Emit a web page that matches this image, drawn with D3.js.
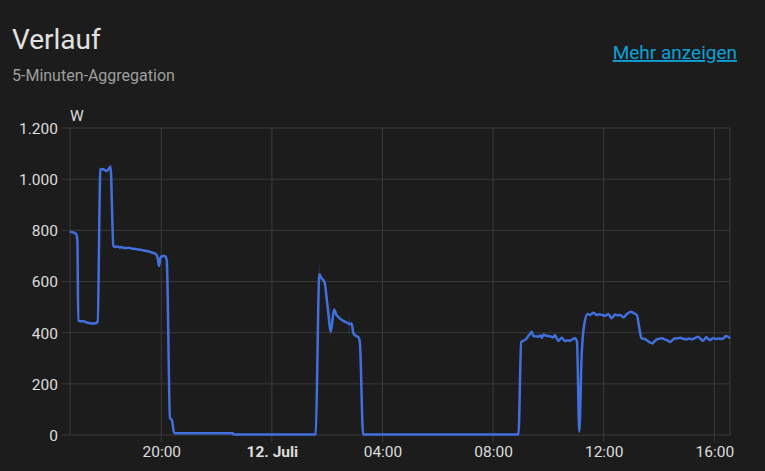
<!DOCTYPE html>
<html><head><meta charset="utf-8">
<script src="https://cdn.jsdelivr.net/npm/d3@7"></script>
<style>
html,body{margin:0;padding:0;background:#1c1c1c;}
svg{display:block;font-family:Roboto,"Noto Sans",sans-serif;}
</style></head>
<body>
<svg id="c" width="765" height="471"></svg>
<script>
// ---- data ----
const times = [
"2024-07-11T16:42","2024-07-11T16:50","2024-07-11T16:55","2024-07-11T16:58","2024-07-11T17:00",
"2024-07-11T17:05","2024-07-11T17:12","2024-07-11T17:17","2024-07-11T17:25","2024-07-11T17:30",
"2024-07-11T17:36","2024-07-11T17:42","2024-07-11T17:48","2024-07-11T17:54","2024-07-11T17:58",
"2024-07-11T18:02","2024-07-11T18:06","2024-07-11T18:10","2024-07-11T18:16","2024-07-11T18:20",
"2024-07-11T18:25","2024-07-11T18:30","2024-07-11T18:35","2024-07-11T18:40","2024-07-11T18:45",
"2024-07-11T18:50","2024-07-11T18:55","2024-07-11T19:00","2024-07-11T19:05","2024-07-11T19:10",
"2024-07-11T19:15","2024-07-11T19:20","2024-07-11T19:25","2024-07-11T19:30","2024-07-11T19:35",
"2024-07-11T19:40","2024-07-11T19:45","2024-07-11T19:50","2024-07-11T19:53","2024-07-11T19:55",
"2024-07-11T19:58","2024-07-11T20:01","2024-07-11T20:05","2024-07-11T20:09","2024-07-11T20:12",
"2024-07-11T20:19","2024-07-11T20:23","2024-07-11T20:28","2024-07-11T20:35","2024-07-11T22:35",
"2024-07-11T22:37","2024-07-12T01:33","2024-07-12T01:35","2024-07-12T01:43","2024-07-12T01:48",
"2024-07-12T01:54","2024-07-12T02:01","2024-07-12T02:08","2024-07-12T02:15","2024-07-12T02:20",
"2024-07-12T02:24","2024-07-12T02:30","2024-07-12T02:35","2024-07-12T02:42","2024-07-12T02:48",
"2024-07-12T02:53","2024-07-12T02:57","2024-07-12T03:02","2024-07-12T03:08","2024-07-12T03:11",
"2024-07-12T03:18","2024-07-12T08:55","2024-07-12T09:01","2024-07-12T09:05","2024-07-12T09:09",
"2024-07-12T09:17","2024-07-12T09:24","2024-07-12T09:27","2024-07-12T09:33","2024-07-12T09:38",
"2024-07-12T09:42","2024-07-12T09:46","2024-07-12T09:49","2024-07-12T09:55","2024-07-12T10:00",
"2024-07-12T10:05","2024-07-12T10:11","2024-07-12T10:14","2024-07-12T10:18","2024-07-12T10:22",
"2024-07-12T10:29","2024-07-12T10:36","2024-07-12T10:42","2024-07-12T10:47","2024-07-12T10:53",
"2024-07-12T10:58","2024-07-12T11:02","2024-07-12T11:07","2024-07-12T11:12","2024-07-12T11:17",
"2024-07-12T11:25","2024-07-12T11:30","2024-07-12T11:38","2024-07-12T11:45","2024-07-12T11:50",
"2024-07-12T11:56","2024-07-12T12:03","2024-07-12T12:10","2024-07-12T12:17","2024-07-12T12:25",
"2024-07-12T12:30","2024-07-12T12:36","2024-07-12T12:43","2024-07-12T12:50","2024-07-12T12:59",
"2024-07-12T13:05","2024-07-12T13:12","2024-07-12T13:17","2024-07-12T13:22","2024-07-12T13:30",
"2024-07-12T13:35","2024-07-12T13:41","2024-07-12T13:46","2024-07-12T13:50","2024-07-12T13:55",
"2024-07-12T14:00","2024-07-12T14:06","2024-07-12T14:12","2024-07-12T14:17","2024-07-12T14:24",
"2024-07-12T14:30","2024-07-12T14:35","2024-07-12T14:40","2024-07-12T14:46","2024-07-12T14:52",
"2024-07-12T15:00","2024-07-12T15:05","2024-07-12T15:11","2024-07-12T15:18","2024-07-12T15:25",
"2024-07-12T15:30","2024-07-12T15:35","2024-07-12T15:43","2024-07-12T15:50","2024-07-12T15:57",
"2024-07-12T16:05","2024-07-12T16:10","2024-07-12T16:16","2024-07-12T16:21","2024-07-12T16:25",
"2024-07-12T16:30","2024-07-12T16:34"
];
const values = [
795,791,786,760,446,
445,445,440,437,436,
436,442,1040,1039,1034,
1032,1040,1050,740,735,
737,733,734,731,731,
732,729,728,727,725,
724,722,720,719,716,
713,710,704,685,661,
690,699,700,698,680,
65,59,8,7,7,
2,2,3,628,612,
599,500,404,491,470,
462,452,446,440,434,
436,397,388,382,360,
2,2,364,368,371,
388,404,387,386,384,
389,380,393,388,387,
385,382,391,378,368,
380,367,370,368,375,
378,364,13,306,423,
473,469,478,469,472,
469,466,473,456,471,
468,469,460,473,482,
476,469,420,378,375,
368,361,358,366,374,
376,378,374,371,364,
372,378,377,380,376,
374,377,374,379,384,
376,368,382,371,378,
375,377,375,380,387,
384,378
];
// faint min/max band spikes (statistics range)
const bandTimes = ["2024-07-12T01:41","2024-07-12T01:43","2024-07-12T01:45","2024-07-12T02:06","2024-07-12T02:08","2024-07-12T02:10","2024-07-12T02:46","2024-07-12T02:48","2024-07-12T02:50"];
const bandLow  = [620,622,615,410,371,430,436,378,434];
const bandHigh = [620,684,615,410,540,430,436,476,434];

const yTicks = [0,200,400,600,800,1000,1200];
const title = "Verlauf";
const subtitle = "5-Minuten-Aggregation";
const linkText = "Mehr anzeigen";
const unit = "W";

// ---- drawing ----
const parse = d3.timeParse("%Y-%m-%dT%H:%M");
const data = times.map((t,i)=>({t:parse(t), v:values[i]}));
const band = bandTimes.map((t,i)=>({t:parse(t), lo:bandLow[i], hi:bandHigh[i]}));

const svg = d3.select("#c");
const L = 70, R = 730, T = 128, B = 435;
const x = d3.scaleTime().domain([parse("2024-07-11T16:42"), parse("2024-07-12T16:34")]).range([L,R]);
const y = d3.scaleLinear().domain([0,1200]).range([B,T]);
const grid = "#3a3a3a";
const txt = "#dcdcdc";

svg.append("rect").attr("width",765).attr("height",471).attr("fill","#1c1c1c");

svg.append("text").attr("x",12).attr("y",49).attr("fill","#e1e1e1")
  .attr("font-size",28).text(title);
svg.append("text").attr("x",12).attr("y",81).attr("fill","#9e9e9e")
  .attr("font-size",16).text(subtitle);
svg.append("text").attr("x",737).attr("y",59).attr("text-anchor","end").attr("fill","#0ea0d8")
  .attr("font-size",19).attr("text-decoration","underline").text(linkText);

const de = d3.formatLocale({decimal:",",thousands:".",grouping:[3],currency:["","€"]});
const fmtY = de.format(",");

// horizontal grid
svg.append("g").selectAll("line").data(yTicks).join("line")
  .attr("x1",L-8).attr("x2",R).attr("y1",d=>y(d)).attr("y2",d=>y(d))
  .attr("stroke",grid).attr("stroke-width",1);

const xTicks = x.ticks(d3.timeHour.every(4));
svg.append("g").selectAll("line").data(xTicks).join("line")
  .attr("x1",d=>x(d)).attr("x2",d=>x(d)).attr("y1",T).attr("y2",B+7)
  .attr("stroke",grid).attr("stroke-width",1);
// borders
svg.append("line").attr("x1",L).attr("x2",L).attr("y1",T).attr("y2",B).attr("stroke",grid);
svg.append("line").attr("x1",R).attr("x2",R).attr("y1",T).attr("y2",B).attr("stroke",grid);

// y axis labels
const yAxis = d3.axisLeft(y).tickValues(yTicks).tickFormat(fmtY).tickSize(0).tickPadding(12);
const gy = svg.append("g").attr("transform",`translate(${L},0)`).call(yAxis);
gy.select(".domain").remove();
gy.selectAll("text").attr("fill",txt).attr("font-size",15.5).attr("font-family","Roboto").attr("dy","0.35em");

// x axis labels
const fmtX = d => d.getHours()===0 ? "12. Juli" : d3.timeFormat("%H:%M")(d);
const xAxis = d3.axisBottom(x).tickValues(xTicks).tickFormat(fmtX).tickSize(0).tickPadding(0);
const gx = svg.append("g").attr("transform",`translate(0,${B})`).call(xAxis);
gx.select(".domain").remove();
gx.selectAll("text").attr("fill",txt).attr("font-size",15.5).attr("font-family","Roboto")
  .attr("dy",0).attr("y",22)
  .attr("font-weight",d=>d.getHours()===0?"bold":"normal");

// unit
svg.append("text").attr("x",L).attr("y",121).attr("fill",txt).attr("font-size",15.5).text(unit);

// band
const area = d3.area().x(d=>x(d.t)).y0(d=>y(d.lo)).y1(d=>y(d.hi));
svg.append("path").datum(band).attr("d",area).attr("fill","#3f6fd8").attr("opacity",0.25);

// line
const line = d3.line().x(d=>x(d.t)).y(d=>y(d.v)).curve(d3.curveMonotoneX);
svg.append("path").datum(data).attr("d",line).attr("fill","none")
  .attr("stroke","#4170de").attr("stroke-width",2.5).attr("stroke-linejoin","round");
</script>
</body></html>
